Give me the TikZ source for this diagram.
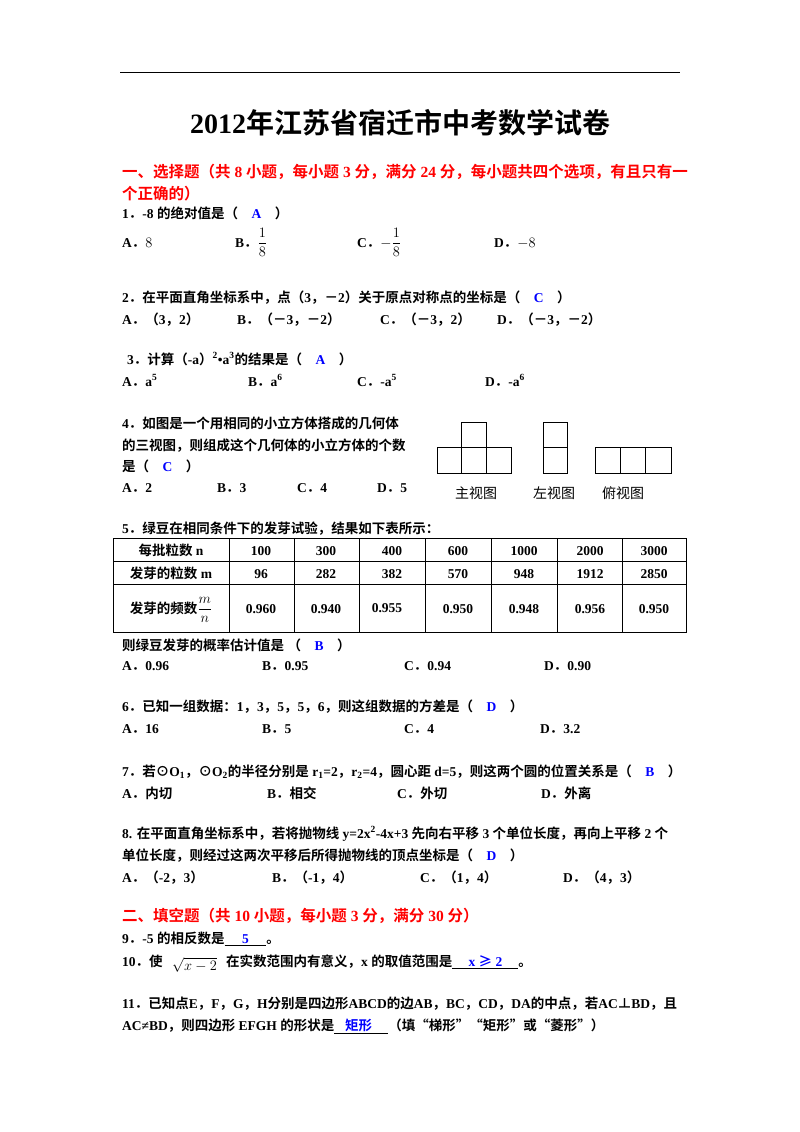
\documentclass[tikz,border=0pt]{standalone}
\usepackage{amsmath}
\usepackage{fontspec}
\setmainfont{Liberation Serif}
\newfontfamily\cjk{Noto Sans CJK SC}[BoldFont={Noto Sans CJK SC Bold}]
\newcommand\latinf{\rmfamily}
\XeTeXinterchartokenstate=1
\newXeTeXintercharclass\cjkclass
\newcount\cc
\cc="4E00 \loop \XeTeXcharclass\cc=\cjkclass \advance\cc 1 \ifnum\cc<"A000 \repeat
\cc="3000 \loop \XeTeXcharclass\cc=\cjkclass \advance\cc 1 \ifnum\cc<"3040 \repeat
\cc="FF00 \loop \XeTeXcharclass\cc=\cjkclass \advance\cc 1 \ifnum\cc<"FFF0 \repeat
\XeTeXcharclass"2299=\cjkclass \XeTeXcharclass"22A5=\cjkclass \XeTeXcharclass"2265=\cjkclass
\XeTeXcharclass"2266=\cjkclass \XeTeXcharclass"201C=\cjkclass \XeTeXcharclass"201D=\cjkclass
\XeTeXinterchartoks 0 \cjkclass = {\cjk}
\XeTeXinterchartoks 4095 \cjkclass = {\cjk}
\XeTeXinterchartoks \cjkclass 0 = {\latinf}
\XeTeXinterchartoks \cjkclass 4095 = {\latinf}
\begin{document}
\begin{tikzpicture}[x=1pt,y=-1pt,
 t/.style={anchor=base west,inner sep=0,font=\fontsize{13.5}{16}\bfseries},
 hd/.style={t,text=red,font=\fontsize{15.5}{18}\bfseries},
 bx/.style={draw,line width=0.9pt}]
\newcommand\A[1]{\quad{\color{blue}#1}\quad}
\useasboundingbox (0,0) rectangle (800,1132);
\fill[white] (0,0) rectangle (800,1132);
\draw[line width=0.8pt] (120,72) -- (680,72);
\node[anchor=base,inner sep=0,font=\fontsize{28}{32}\bfseries] (title) at (400,133) {2012年江苏省宿迁市中考数学试卷};
\node[hd] (h1) at (122,177) {一、选择题（共 8 小题，每小题 3 分，满分 24 分，每小题共四个选项，有且只有一};
\node[hd] (h1b) at (122,199) {个正确的）};
% Q1
\node[t] at (122,218) {1．-8 的绝对值是（\A{A}）};
\node[t] at (122,247) {A．\mdseries$8$};
\node[t] at (235,247) {B．\mdseries$\dfrac{1}{8}$};
\node[t] at (357,247) {C．\mdseries$-\dfrac{1}{8}$};
\node[t] at (494,247) {D．\mdseries$-8$};
% Q2
\node[t] at (122,302) {2．在平面直角坐标系中，点（3，－2）关于原点对称点的坐标是（\A{C}）};
\node[t] at (122,324) {A．（3，2）};
\node[t] at (237,324) {B．（－3，－2）};
\node[t] at (380,324) {C．（－3，2）};
\node[t] at (497,324) {D．（－3，－2）};
% Q3
\node[t] at (127,364) {3．计算（-a）\textsuperscript{2}•a\textsuperscript{3}的结果是（\A{A}）};
\node[t] at (122,386) {A．a\textsuperscript{5}};
\node[t] at (248,386) {B．a\textsuperscript{6}};
\node[t] at (357,386) {C．-a\textsuperscript{5}};
\node[t] at (485,386) {D．-a\textsuperscript{6}};
% Q4
\node[t] at (122,428) {4．如图是一个用相同的小立方体搭成的几何体};
\node[t] at (122,450) {的三视图，则组成这个几何体的小立方体的个数};
\node[t] at (122,471) {是（\A{C}）};
\node[t] at (122,492) {A．2};
\node[t] at (217,492) {B．3};
\node[t] at (297,492) {C．4};
\node[t] at (377,492) {D．5};
\draw[bx] (437,447) rectangle (511,473);
\draw[bx] (461.7,447) -- (461.7,473) (486.3,447) -- (486.3,473);
\draw[bx] (461.7,422) rectangle (486.3,447);
\draw[bx] (543,422) rectangle (567,473) (543,447) -- (567,447);
\draw[bx] (595,447) rectangle (671,473) (620.3,447) -- (620.3,473) (645.7,447) -- (645.7,473);
\node[anchor=base,inner sep=0,font=\fontsize{14}{15}] at (476,498) {主视图};
\node[anchor=base,inner sep=0,font=\fontsize{14}{15}] at (554,498) {左视图};
\node[anchor=base,inner sep=0,font=\fontsize{14}{15}] at (623,498) {俯视图};
% Q5
\node[t] at (122,533) {5．绿豆在相同条件下的发芽试验，结果如下表所示：};
\draw[line width=0.9pt] (113,538) rectangle (686,632);
\draw[line width=0.8pt] (113,561) -- (686,561) (113,584) -- (686,584);
\foreach \x in {229,294,359,425,491,557,622} \draw[line width=0.8pt] (\x,538) -- (\x,632);
\node[t,anchor=base] at (171,555) {每批粒数 n};
\node[t,anchor=base] at (171,578) {发芽的粒数 m};
\node[t,anchor=base] at (171,613) {发芽的频数\mdseries$\dfrac{m}{n}$};
\foreach \x/\a/\b/\c in {261/100/96/0.960,326/300/282/0.940,392/400/382/\phantom{}, 458/600/570/0.950,524/1000/948/0.948,590/2000/1912/0.956,654/3000/2850/0.950}{
 \node[t,anchor=base] at (\x,555) {\a};
 \node[t,anchor=base] at (\x,578) {\b};
 \node[t,anchor=base] at (\x,613) {\c};}
\node[t,anchor=base] at (387,612) {0.955};
\node[t] at (122,650) {则绿豆发芽的概率估计值是 （\A{B}）};
\node[t] at (122,670) {A．0.96};
\node[t] at (262,670) {B．0.95};
\node[t] at (404,670) {C．0.94};
\node[t] at (544,670) {D．0.90};
% Q6
\node[t] at (122,711) {6．已知一组数据：1，3，5，5，6，则这组数据的方差是（\A{D}）};
\node[t] at (122,733) {A．16};
\node[t] at (262,733) {B．5};
\node[t] at (404,733) {C．4};
\node[t] at (540,733) {D．3.2};
% Q7
\node[t] at (122,776) {7．若⊙O\textsubscript{1}，⊙O\textsubscript{2}的半径分别是 r\textsubscript{1}=2，r\textsubscript{2}=4，圆心距 d=5，则这两个圆的位置关系是（\A{B}）};
\node[t] at (122,798) {A．内切};
\node[t] at (267,798) {B．相交};
\node[t] at (397,798) {C．外切};
\node[t] at (541,798) {D．外离};
% Q8
\node[t] at (122,838) {8. 在平面直角坐标系中，若将抛物线 y=2x\textsuperscript{2}-4x+3 先向右平移 3 个单位长度，再向上平移 2 个};
\node[t] at (122,860) {单位长度，则经过这两次平移后所得抛物线的顶点坐标是（\A{D}）};
\node[t] at (122,882) {A．（-2，3）};
\node[t] at (272,882) {B．（-1，4）};
\node[t] at (420,882) {C．（1，4）};
\node[t] at (563,882) {D．（4，3）};
% Section 2
\node[hd] (h2) at (122,921) {二、填空题（共 10 小题，每小题 3 分，满分 30 分）};
\node[t] at (122,943) {9．-5 的相反数是\underline{\color{blue}\hspace{1.3em}5\hspace{1.3em}}。};
\node[t] at (122,966) {10．使};
\node[t,font=\fontsize{13.5}{16}\mdseries] at (172,970) {$\sqrt{x-2}$};
\node[t] at (226,966) {在实数范围内有意义，x 的取值范围是\underline{\color{blue}\hspace{1.2em}x ≥ 2\hspace{1.2em}}。};
\node[t] at (122,1008) {11．已知点E，F，G，H分别是四边形ABCD的边AB，BC，CD，DA的中点，若AC⊥BD，且};
\node[t] at (122,1030) {AC≠BD，则四边形 EFGH 的形状是\underline{\color{blue}\hspace{0.8em}矩形\hspace{1.2em}}（填“梯形”“矩形”或“菱形”）};
\end{tikzpicture}
\end{document}
